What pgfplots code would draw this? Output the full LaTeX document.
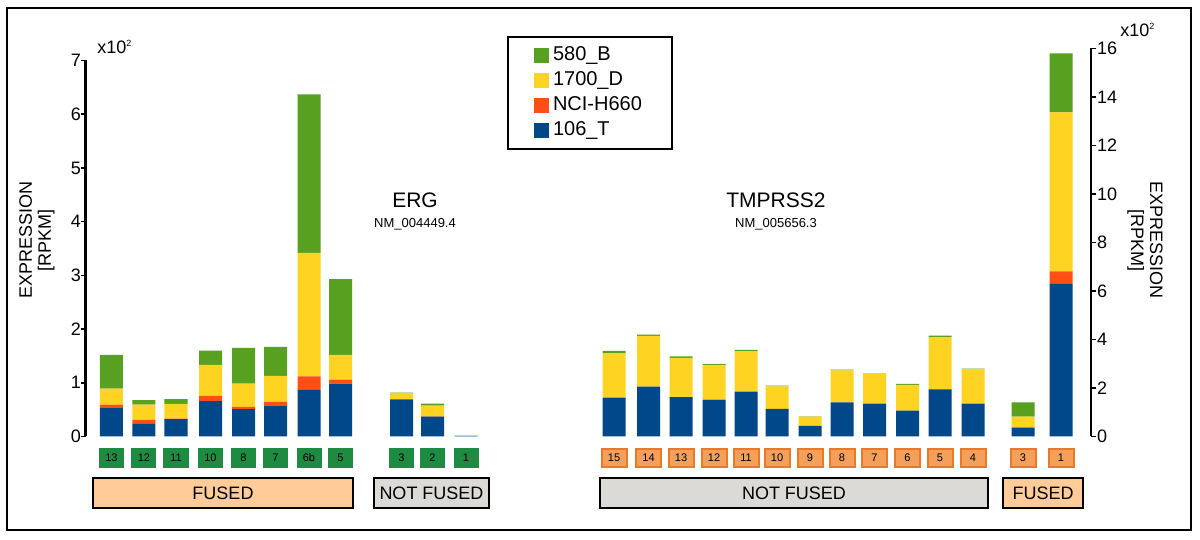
\documentclass[border=0pt]{standalone}
\usepackage{fontspec}
\setmainfont{Liberation Sans}
\usepackage{pgfplots}
\usepackage{pgfplotstable}
\pgfplotsset{compat=1.18}

\definecolor{cgreen}{RGB}{88,160,32}
\definecolor{cyellow}{RGB}{255,211,34}
\definecolor{cred}{RGB}{255,79,20}
\definecolor{cblue}{RGB}{0,72,138}
\definecolor{boxgreen}{RGB}{29,140,66}
\definecolor{boxorange}{RGB}{245,160,90}
\definecolor{boxorangedark}{RGB}{232,120,42}
\definecolor{peach}{RGB}{255,204,153}
\definecolor{lgray}{RGB}{220,218,214}

% ERG exons (x = bar centre, in px of the 1200 wide figure), values x100 RPKM
\pgfplotstableread{
x     blue  red   yellow green
111.5 0.527 0.062 0.303 0.626
144   0.235 0.075 0.285 0.080
176   0.322 0.013 0.272 0.087
210.5 0.657 0.099 0.576 0.266
243.5 0.508 0.043 0.434 0.663
275.5 0.564 0.080 0.484 0.539
309   0.867 0.254 2.299 2.949
340.5 0.985 0.074 0.459 1.412
401.5 0.690 0.000 0.120 0.005
432.5 0.370 0.005 0.200 0.035
466   0.008 0.000 0.008 0.004
}\ergdata

% TMPRSS2 exons
\pgfplotstableread{
x      blue  red   yellow green
614    1.607 0.000 1.823 0.100
648.5  2.060 0.000 2.090 0.050
681    1.620 0.000 1.620 0.060
714    1.510 0.010 1.430 0.040
746    1.850 0.000 1.670 0.050
777    1.140 0.000 0.930 0.030
810    0.440 0.000 0.380 0.005
842    1.410 0.000 1.320 0.030
874.5  1.360 0.000 1.250 0.005
907.5  1.070 0.000 1.060 0.040
940    1.920 0.030 2.140 0.070
973    1.360 0.000 1.410 0.030
1023   0.357 0.020 0.443 0.590
1061   6.290 0.520 6.560 2.430
}\tmpdata

\pgfplotsset{
  exprbars/.style={
    scale only axis,
    anchor=south west,
    ybar stacked, bar width=11.5pt,
    enlargelimits=false, clip=false,
    axis x line*=bottom,
    x axis line style={draw=none},
    xtick style={draw=none},
    tick align=outside, major tick length=2.5pt,
    ytick style={line width=0.8pt, black},
    tick label style={font=\fontsize{9}{10}\selectfont},
    /pgf/number format/assume math mode=true,
    every axis plot/.append style={draw=none},
  }
}

\begin{document}
\begin{tikzpicture}
\useasboundingbox (0,0) rectangle (600pt,270pt);
\fill[white] (0,0) rectangle (600pt,270pt);
\draw[line width=1pt] (3.5pt,5pt) rectangle (595.5pt,266pt);

\begin{axis}[
  exprbars,
  at={(43pt,51.75pt)}, width=202pt, height=188pt,
  xmin=86, xmax=490, ymin=0, ymax=7, ytick={0,...,7},
  axis y line*=left,
  y axis line style={line width=1.5pt},
  yticklabel style={xshift=3.5pt},
  xtick={111.5,144,176,210.5,243.5,275.5,309,340.5,401.5,432.5,466},
  xticklabels={13,12,11,10,8,7,6b,5,3,2,1},
  xticklabel style={anchor=center, yshift=-8.25pt, fill=boxgreen,
    minimum width=12.5pt, minimum height=10pt, inner sep=0pt,
    font=\fontsize{5.5}{6}\selectfont},
  every axis y label/.style={at={(axis description cs:0,0.522)}, xshift=-24.5pt,
    rotate=90, anchor=center, align=center, font=\fontsize{9}{9.5}\selectfont},
  ylabel={EXPRESSION\\{[RPKM]}},
  reverse legend,
  legend cell align=left,
  legend image code/.code={\fill[#1] (0pt,-3.75pt) rectangle (7.5pt,3.75pt);},
  legend style={at={(1.0421,1.0664)}, anchor=north west, draw=black, line width=1pt,
    inner xsep=13pt, inner ysep=3pt, row sep=0pt,
    font=\fontsize{10}{12}\selectfont,
    nodes={text height=7.5pt, text depth=2pt, inner ysep=1.5pt}},
]
\addplot[fill=cblue] table[x=x,y=blue]{\ergdata};
\addplot[fill=cred] table[x=x,y=red]{\ergdata};
\addplot[fill=cyellow] table[x=x,y=yellow]{\ergdata};
\addplot[fill=cgreen] table[x=x,y=green]{\ergdata};
\legend{106\_T,NCI-H660,1700\_D,580\_B}
\end{axis}

\begin{axis}[
  exprbars,
  at={(295pt,51.75pt)}, width=250.5pt, height=194pt,
  xmin=590, xmax=1091, ymin=0, ymax=16, ytick={0,2,...,16},
  axis y line*=right,
  y axis line style={line width=1.3pt},
  yticklabel style={xshift=-3pt},
  xtick={614,648.5,681,714,746,777,810,842,874.5,907.5,940,973,1023,1061},
  xticklabels={15,14,13,12,11,10,9,8,7,6,5,4,3,1},
  xticklabel style={anchor=center, yshift=-8.25pt, fill=boxorange,
    draw=boxorangedark, line width=1pt,
    minimum width=12.5pt, minimum height=9pt, inner sep=0pt,
    font=\fontsize{5.5}{6}\selectfont},
  every axis y label/.style={at={(axis description cs:1,0.506)}, xshift=27pt,
    rotate=-90, anchor=center, align=center, font=\fontsize{9}{9.5}\selectfont},
  ylabel={EXPRESSION\\{[RPKM]}},
]
\addplot[fill=cblue] table[x=x,y=blue]{\tmpdata};
\addplot[fill=cred] table[x=x,y=red]{\tmpdata};
\addplot[fill=cyellow] table[x=x,y=yellow]{\tmpdata};
\addplot[fill=cgreen] table[x=x,y=green]{\tmpdata};
\end{axis}

% scale factors
\node[anchor=west, font=\fontsize{9}{10}\selectfont, inner sep=0pt] at (48.5pt,246.5pt)
  {x10\raisebox{0.7ex}{\fontsize{4.5}{5}\selectfont 2}};
\node[anchor=west, font=\fontsize{9}{10}\selectfont, inner sep=0pt] at (560pt,255pt)
  {x10\raisebox{0.7ex}{\fontsize{4.5}{5}\selectfont 2}};

% gene names
\node[font=\fontsize{10.5}{12}\selectfont] at (207.5pt,170pt) {ERG};
\node[font=\fontsize{6.5}{8}\selectfont] at (207.5pt,158pt) {NM\_004449.4};
\node[font=\fontsize{10.5}{12}\selectfont] at (388pt,170pt) {TMPRSS2};
\node[font=\fontsize{6.5}{8}\selectfont] at (388pt,158pt) {NM\_005656.3};

% fusion status
\tikzset{status/.style={draw=black, line width=1pt, minimum height=15pt, inner sep=0pt,
  font=\fontsize{9}{10}\selectfont}}
\node[status, fill=peach, minimum width=130pt] at (111.5pt,23.5pt) {FUSED};
\node[status, fill=lgray, minimum width=57.5pt] at (215.75pt,23.5pt) {NOT FUSED};
\node[status, fill=lgray, minimum width=194pt] at (397pt,23.5pt) {NOT FUSED};
\node[status, fill=peach, minimum width=40pt] at (521.5pt,23.5pt) {FUSED};
\end{tikzpicture}
\end{document}
